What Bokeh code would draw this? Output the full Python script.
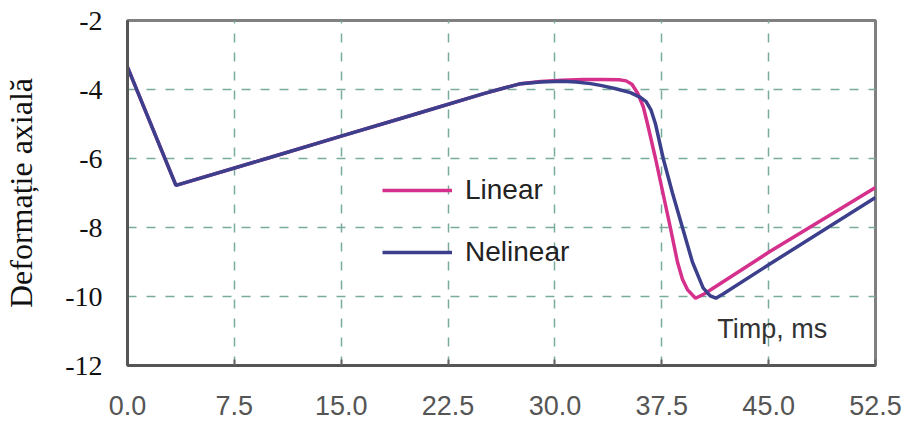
from bokeh.plotting import figure
from bokeh.models import FixedTicker, PrintfTickFormatter, Legend, LegendItem, Label, Range1d
from bokeh.embed import file_html
from bokeh.resources import INLINE

# ---- data ----
x_ticks = [0.0, 7.5, 15.0, 22.5, 30.0, 37.5, 45.0, 52.5]
y_ticks = [-12, -10, -8, -6, -4, -2]

linear_t = [0.0, 3.4, 10.0, 15.0, 20.0, 25.0, 26.5, 27.6, 29.0, 30.5, 32.0, 33.2, 34.5,
            35.0, 35.4, 35.8, 36.2, 36.5, 37.06, 37.58, 38.1, 38.6, 38.95, 39.3, 39.87, 40.5, 45.0, 52.5]
linear_y = [-3.35, -6.78, -5.97, -5.35, -4.74, -4.12, -3.95, -3.83, -3.77, -3.73, -3.71, -3.71, -3.72,
            -3.75, -3.85, -4.1, -4.5, -5.0, -6.0, -7.0, -8.0, -9.0, -9.5, -9.8, -10.05, -9.92, -8.72, -6.84]

nelinear_t = [0.0, 3.4, 10.0, 15.0, 20.0, 25.0, 26.5, 27.6, 29.0, 30.5, 31.5, 32.5, 33.2, 34.2,
              35.3, 36.0, 36.4, 36.75, 37.06, 37.6, 38.25, 38.95, 39.65, 40.4, 40.9, 41.3, 41.8, 45.0, 52.5]
nelinear_y = [-3.35, -6.78, -5.97, -5.35, -4.74, -4.12, -3.95, -3.83, -3.78, -3.76, -3.78, -3.83, -3.88, -3.97,
              -4.09, -4.23, -4.35, -4.6, -5.0, -6.0, -7.0, -8.0, -9.0, -9.75, -9.98, -10.05, -9.93, -9.08, -7.13]

series_names = ["Linear", "Nelinear"]
series_colors = ["#d4308c", "#3c3f8c"]

p = figure(width=909, height=425, output_backend="svg", toolbar_location=None,
           x_range=Range1d(0, 52.5), y_range=Range1d(-12, -2),
           min_border_left=127, min_border_right=34, min_border_top=20, min_border_bottom=60)

p.background_fill_color = "white"
p.border_fill_color = "white"
p.outline_line_color = "#808080"
p.outline_line_width = 3

r_lin = p.line(linear_t, linear_y, line_color=series_colors[0], line_width=3.5)
r_nel = p.line(nelinear_t, nelinear_y, line_color=series_colors[1], line_width=3.5)

# axes
p.xaxis.ticker = FixedTicker(ticks=x_ticks)
p.xaxis.formatter = PrintfTickFormatter(format="%.1f")
p.yaxis.ticker = FixedTicker(ticks=y_ticks)
p.yaxis.formatter = PrintfTickFormatter(format="%d")

p.xaxis.major_label_text_font = "Liberation Sans"
p.xaxis.major_label_text_font_size = "27px"
p.xaxis.major_label_text_color = "#555555"
p.xaxis.major_label_standoff = 30
p.xaxis.major_tick_in = 6
p.xaxis.major_tick_out = 0
p.xaxis.major_tick_line_color = "#666666"
p.xaxis.major_tick_line_width = 2
p.xaxis.minor_tick_line_color = None
p.xaxis.axis_line_color = "#555555"
p.xaxis.axis_line_width = 3

p.yaxis.major_label_text_font = "Liberation Serif"
p.yaxis.major_label_text_font_size = "28px"
p.yaxis.major_label_text_color = "#111111"
p.yaxis.major_label_standoff = 19
p.yaxis.major_tick_line_color = None
p.yaxis.minor_tick_line_color = None
p.yaxis.axis_line_color = "#555555"
p.yaxis.axis_line_width = 3
p.yaxis.axis_label = "Deformație axială"
p.yaxis.axis_label_text_font = "Liberation Serif"
p.yaxis.axis_label_text_font_style = "normal"
p.yaxis.axis_label_text_font_size = "32px"
p.yaxis.axis_label_text_color = "#111111"
p.yaxis.axis_label_standoff = 23

# grid
for g in (p.xgrid, p.ygrid):
    g.grid_line_color = "#78ab9c"
    g.grid_line_dash = "9 10"
    g.grid_line_width = 1.5
p.xgrid.ticker = FixedTicker(ticks=x_ticks)
p.ygrid.ticker = FixedTicker(ticks=y_ticks)

# legend
legend = Legend(items=[LegendItem(label=series_names[0], renderers=[r_lin]),
                       LegendItem(label=series_names[1], renderers=[r_nel])],
                location=(255, 97), orientation="vertical",
                glyph_width=70, glyph_height=30, spacing=30, label_standoff=13,
                label_text_font="Liberation Sans", label_text_font_size="28px",
                label_text_color="#222222", padding=0, margin=0,
                border_line_color=None, background_fill_alpha=0)
p.add_layout(legend, "center")

p.add_layout(Label(x=41.4, y=-10.93, text="Timp, ms", text_font="Liberation Sans",
                   text_font_size="27px", text_color="#333333", text_baseline="middle"))

open("out.html", "w").write(file_html(p, INLINE))
